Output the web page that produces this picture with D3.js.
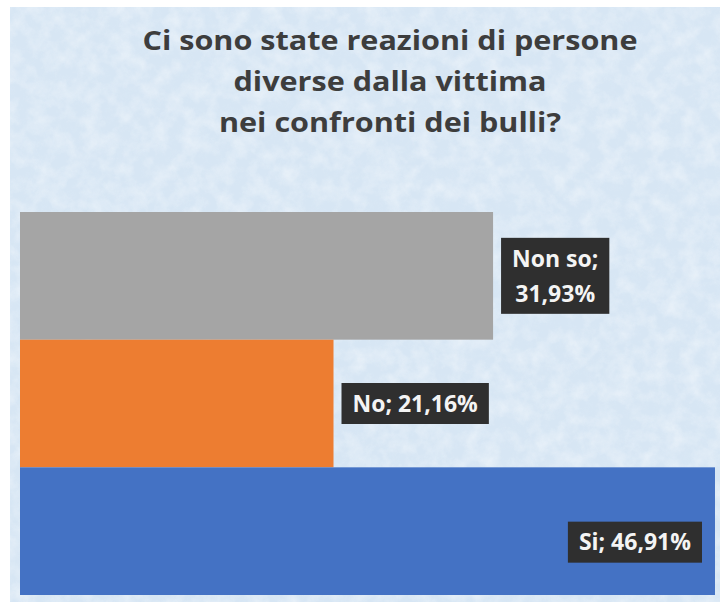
<!DOCTYPE html>
<html>
<head>
<meta charset="utf-8">
<script src="https://cdn.jsdelivr.net/npm/d3@7"></script>
<style>
  html, body { margin: 0; padding: 0; background: #ffffff; }
  svg { display: block; }
</style>
</head>
<body>
<script>
// Answers, top to bottom as drawn
const categories = ["Non so", "No", "Si"];
const values = [31.93, 21.16, 46.91];
const barColors = ["#a5a5a5", "#ed7d31", "#4472c4"];
const titleLines = [
  "Ci sono state reazioni di persone",
  "diverse dalla vittima",
  "nei confronti dei bulli?"
];

const W = 725, H = 604;
const panel = { x0: 10, y0: 7, x1: 720, y1: 602 };

const itFormat = d3.formatLocale({ decimal: ",", thousands: ".", grouping: [3], currency: ["", " €"] });
const pct = v => itFormat.format(".2f")(v) + "%";

const svg = d3.select("body").append("svg")
  .attr("width", W).attr("height", H);

// Textured light-blue chart area
const defs = svg.append("defs");
const tex = defs.append("filter").attr("id", "paper")
  .attr("x", 0).attr("y", 0).attr("width", "100%").attr("height", "100%");
tex.append("feTurbulence").attr("type", "fractalNoise")
  .attr("baseFrequency", "0.06").attr("numOctaves", 4).attr("seed", 7).attr("result", "n");
tex.append("feColorMatrix").attr("in", "n").attr("type", "matrix")
  .attr("values", "0 0 0 0 1  0 0 0 0 1  0 0 0 0 1  1.5 0 0 0 -0.55");
const tex2 = defs.append("filter").attr("id", "paper2")
  .attr("x", 0).attr("y", 0).attr("width", "100%").attr("height", "100%");
tex2.append("feTurbulence").attr("type", "fractalNoise")
  .attr("baseFrequency", "0.12").attr("numOctaves", 3).attr("seed", 19).attr("result", "n");
tex2.append("feColorMatrix").attr("in", "n").attr("type", "matrix")
  .attr("values", "0 0 0 0 0.72  0 0 0 0 0.82  0 0 0 0 0.92  0 1.5 0 0 -0.6");

const pw = panel.x1 - panel.x0, ph = panel.y1 - panel.y0;
svg.append("rect").attr("x", panel.x0).attr("y", panel.y0)
  .attr("width", pw).attr("height", ph).attr("fill", "#d7e6f4");
svg.append("rect").attr("x", panel.x0).attr("y", panel.y0)
  .attr("width", pw).attr("height", ph).attr("filter", "url(#paper2)").attr("opacity", 0.45);
svg.append("rect").attr("x", panel.x0).attr("y", panel.y0)
  .attr("width", pw).attr("height", ph).attr("filter", "url(#paper)").attr("opacity", 0.5);

// Title
const titleFont = "'Open Sans', 'Noto Sans', sans-serif";
const titleG = svg.append("g")
  .attr("font-family", titleFont).attr("font-weight", 700)
  .attr("font-size", 26).attr("fill", "#3d3d3d").attr("text-anchor", "middle");
const titleTexts = titleG.selectAll("text").data(titleLines).join("text")
  .attr("x", 390)
  .attr("y", (d, i) => 50 + i * 41)
  .text(d => d);
// Widen the title to its full line width, same factor on every line
const firstLen = titleTexts.nodes()[0].getComputedTextLength();
const stretch = 495 / firstLen;
titleTexts.each(function () {
  const len = this.getComputedTextLength();
  d3.select(this).attr("textLength", len * stretch).attr("lengthAdjust", "spacingAndGlyphs");
});

// Scales
const x = d3.scaleLinear().domain([0, d3.max(values)]).range([20, 715]);
const y = d3.scaleBand().domain(categories).range([212, 595]).padding(0);

const rows = categories.map((c, i) => ({ cat: c, value: values[i], color: barColors[i] }));

svg.append("g").selectAll("rect").data(rows).join("rect")
  .attr("x", x(0))
  .attr("y", d => y(d.cat))
  .attr("width", d => x(d.value) - x(0))
  .attr("height", y.bandwidth())
  .attr("fill", d => d.color);

// Data labels: dark callout boxes with "Category; value"
const labelFont = "'Open Sans', 'Noto Sans', sans-serif";
const fontSize = 23;
const maxLabelWidth = 150;
const padX = 11, lineH = 35;
const gap = 8, insideDy = 11;

const labelG = svg.append("g")
  .attr("font-family", labelFont).attr("font-weight", 700).attr("font-size", fontSize);

rows.forEach(d => {
  const full = `${d.cat}; ${pct(d.value)}`;
  const probe = labelG.append("text").text(full);
  let lines = [full];
  if (probe.node().getComputedTextLength() > maxLabelWidth) {
    lines = [`${d.cat};`, pct(d.value)];
  }
  probe.remove();

  const g = labelG.append("g");
  const texts = g.selectAll("text").data(lines).join("text")
    .attr("fill", "#f4f4f4").attr("text-anchor", "middle").text(t => t);
  const tw = d3.max(texts.nodes(), n => n.getComputedTextLength());
  const bw = tw + 2 * padX;
  const bh = lines.length === 1 ? 41 : 76;

  const end = x(d.value);
  let bx = end + gap;
  let cy = y(d.cat) + y.bandwidth() / 2;
  if (bx + bw > panel.x1 - 5) {
    bx = end - 13 - bw;
    cy += insideDy;
  }
  const by = cy - bh / 2;

  g.insert("rect", "text")
    .attr("x", bx).attr("y", by).attr("width", bw).attr("height", bh)
    .attr("fill", "#2f2f2f");
  const firstBase = lines.length === 1 ? cy + fontSize * 0.36 : cy - lineH / 2 + fontSize * 0.36;
  texts.attr("x", bx + bw / 2).attr("y", (t, i) => firstBase + i * lineH);
});
</script>
</body>
</html>
